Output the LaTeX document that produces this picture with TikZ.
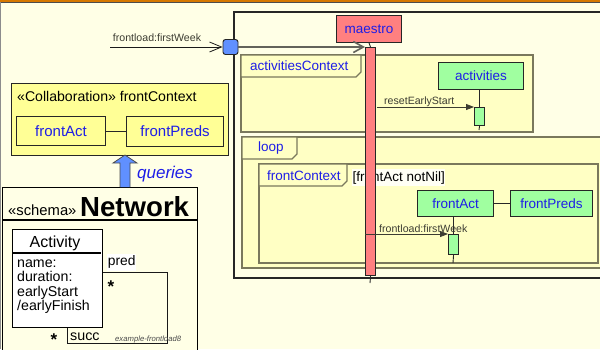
\documentclass[tikz,border=0pt]{standalone}
\usepackage{fontspec}
\setmainfont{Liberation Sans}
\usetikzlibrary{arrows.meta}
\definecolor{bgcream}{RGB}{255,255,230}
\definecolor{framefill}{RGB}{255,255,196}
\definecolor{framedraw}{RGB}{122,120,92}
\definecolor{collabfill}{RGB}{255,255,150}
\definecolor{lifegreen}{RGB}{160,255,160}
\definecolor{maestrored}{RGB}{255,128,128}
\definecolor{nameblue}{RGB}{30,30,230}
\definecolor{gateblue}{RGB}{96,144,255}
\definecolor{topband}{RGB}{214,120,0}
\definecolor{msggray}{RGB}{60,60,50}
\newcommand{\fsz}[1]{\fontsize{#1}{#1}\selectfont}
\begin{document}
\begin{tikzpicture}[x=1pt,y=-1pt,
  box/.style={draw=black!85, line width=1.1pt, inner sep=0pt, anchor=north west,
    font=\fsz{13.5}, text=nameblue},
  greenbox/.style={box, fill=lifegreen},
  partbox/.style={box, fill=collabfill, font=\fsz{15}},
  actbar/.style={draw=black!85, line width=1.1pt, inner sep=0pt, anchor=north west},
  frm/.style={draw=framedraw, fill=framefill, line width=1.1pt},
  tablbl/.style={anchor=west, inner sep=0pt, font=\fsz{13.5}, text=nameblue},
  syncmsg/.style={draw=msggray, line width=0.8pt, -{Triangle[length=8pt,width=6pt]}},
  openmsg/.style={draw=msggray, line width=0.8pt, -{Straight Barb[length=12pt,width=10pt]}},
  msglbl/.style={inner sep=0pt, font=\fsz{10.6}, text=msggray},
  life/.style={draw=black!85, line width=0.9pt},
  plain/.style={inner sep=0pt, text=black}]

% page and its edges
\fill[bgcream] (0,0) rectangle (600,349);
\useasboundingbox (0,0) rectangle (600,349);
\fill[topband] (0,0) rectangle (600,2);
\draw[black!70, line width=0.8pt] (0,2.4) -- (600,2.4);
\draw[black!45, line width=0.8pt] (0.4,2) -- (0.4,349);

% ---------------- sequence diagram ----------------
\draw[black!85, line width=1.2pt] (234,12) rectangle (612,278);

% activitiesContext fragment
\draw[frm] (241,55) rectangle (533,132);
\draw[frm] (241,55) -- (361,55) -- (361,72) -- (356,77) -- (241,77) -- cycle;
\node[tablbl] (actctx) at (250,66) {activitiesContext};

% loop fragment
\draw[frm] (242,137) rectangle (612,268);
\draw[frm] (242,137) -- (297,137) -- (297,154) -- (292,159) -- (242,159) -- cycle;
\node[tablbl] (looplbl) at (258,148.5) {loop};

% frontContext fragment with its guard
\draw[frm] (259,164) rectangle (598,263);
\draw[frm] (259,164) -- (347,164) -- (347,181) -- (342,186) -- (259,186) -- cycle;
\node[tablbl] (fctxlbl) at (267,176) {frontContext};
\node[plain, fill=white!60!bgcream, anchor=north west, minimum width=93pt,
      minimum height=17pt, font=\fsz{13.5}] (guard) at (352,169) {[frontAct notNil]};

% lifelines
\node[box, fill=maestrored, minimum width=65pt, minimum height=27pt] (maestro) at (336,15) {maestro};
\node[actbar, fill=maestrored, minimum width=10pt, minimum height=228pt] (mbar) at (365,47) {};
\coordinate (mend) at (370,283);
\draw[life] (maestro.south) -- (mbar.north);
\draw[life] (mbar.south) -- (mend);

\node[greenbox, minimum width=85pt, minimum height=27pt] (activities) at (438,62) {activities};
\node[actbar, fill=lifegreen, minimum width=10pt, minimum height=18pt] (abar) at (474,107) {};
\coordinate (aend) at (479,130);
\draw[life] (activities.south -| abar.north) -- (abar.north);
\draw[life] (abar.south) -- (aend);

\node[greenbox, minimum width=76pt, minimum height=26pt] (frontAct) at (417,190) {frontAct};
\node[greenbox, minimum width=82pt, minimum height=26pt] (frontPreds) at (510,190) {frontPreds};
\draw[life] (frontAct.east) -- (frontPreds.west);
\node[actbar, fill=lifegreen, minimum width=10pt, minimum height=20pt] (fbar) at (448,234) {};
\coordinate (fend) at (453,263);
\draw[life] (frontAct.south -| fbar.north) -- (fbar.north);
\draw[life] (fbar.south) -- (fend);

% entry gate and messages
\node[draw=black!85, fill=gateblue, line width=0.9pt, rounded corners=2.5pt,
      minimum size=15pt, inner sep=0pt] (gate) at (230.5,47) {};
\coordinate (ext) at (110,47);
\draw[openmsg, draw=black!90] (ext) -- (gate.west);
\node[msglbl] (extlbl) at (157,38) {frontload:firstWeek};
\draw[draw=msggray!80, line width=1.6pt, -{Straight Barb[length=10pt,width=11pt]}]
  (gate.east) -- (gate.east -| mbar.west);

\coordinate (r0) at (377,107);
\draw[syncmsg] (r0) -- (abar.north west);
\node[msglbl, anchor=west] (resetlbl) at (384,102) {resetEarlyStart};

\draw[syncmsg] (mbar.west |- fbar.north) -- (fbar.north west);
\node[msglbl, anchor=west] (flbl) at (379,228.5) {frontload:firstWeek};

% ---------------- collaboration ----------------
\node[box, fill=collabfill, minimum width=217pt, minimum height=72pt] (collab) at (11,83) {};
\node[plain, anchor=west, font=\fsz{14.1}] (collabttl) at (17,96) {«Collaboration» frontContext};
\node[partbox, minimum width=89pt, minimum height=29pt] (cfrontAct) at (16,116) {frontAct};
\node[partbox, minimum width=97pt, minimum height=30pt] (cfrontPreds) at (126,116) {frontPreds};
\draw[life] (cfrontAct.east) -- (cfrontAct.east -| cfrontPreds.west);

% ---------------- schema ----------------
\node[draw=black, line width=1.3pt, fill=bgcream, anchor=north west, inner sep=0pt,
      minimum width=195pt, minimum height=180pt] (network) at (2,187) {};
\draw[black, line width=1.1pt] (2,220) -- (197,220);
\node[plain, anchor=base west, font=\fsz{14.8}] (schema) at (8,215) {«schema»};
\node[plain, anchor=base west, font=\bfseries\fsz{27.6}] (netname) at (80,216.5) {Network};

% queries arrow from the schema up to the collaboration
\coordinate (qtip) at (125,155);
\coordinate (qbase) at (125,187);
\draw[draw=black!70, fill=gateblue, line width=0.8pt]
  ([xshift=-5pt]qbase) -- ([xshift=-5pt,yshift=-8pt]qtip) -- ([xshift=-12pt,yshift=-8pt]qtip)
  -- (qtip) -- ([xshift=12pt,yshift=-8pt]qtip) -- ([xshift=5pt,yshift=-8pt]qtip)
  -- ([xshift=5pt]qbase);
\node[anchor=west, inner sep=0pt, font=\itshape\fsz{17}, text=nameblue] (qlbl) at (137,174) {queries};

% Activity class with its self association
\node[draw=black, line width=1.1pt, fill=white, anchor=north west, inner sep=0pt,
      minimum width=90pt, minimum height=98pt] (activity) at (12,229) {};
\node[plain, font=\fsz{16}] (actname) at (55,243) {Activity};
\draw[black, line width=2.4pt] (12,253) -- (101,253);
\node[plain, anchor=north west, align=left, font=\fontsize{14.2}{14.5}\selectfont] (attrs) at (17,259.5)
  {name:\\duration:\\earlyStart\\/earlyFinish};

\coordinate (c1) at (167,272);
\coordinate (c2) at (167,343);
\coordinate (c3) at (67,343);
\draw[black!90, line width=0.9pt] (activity.east |- c1) -- (c1) -- (c2) -- (c3) -- (c3 |- activity.south);
\node[plain, fill=white, anchor=north west, minimum width=29pt, minimum height=17pt,
      font=\fsz{13.8}] (pred) at (107,253.5) {pred};
\node[plain, font=\bfseries\fsz{17}] (predmult) at (111,287) {*};
\node[plain, font=\bfseries\fsz{17}] (succmult) at (54,340) {*};
\node[plain, anchor=base west, font=\fsz{14.3}] (succ) at (70,340) {succ};
\node[plain, anchor=base west, text=black!70, font=\itshape\fsz{7.7}] (example) at (115,341) {example-frontload8};
\end{tikzpicture}
\end{document}
